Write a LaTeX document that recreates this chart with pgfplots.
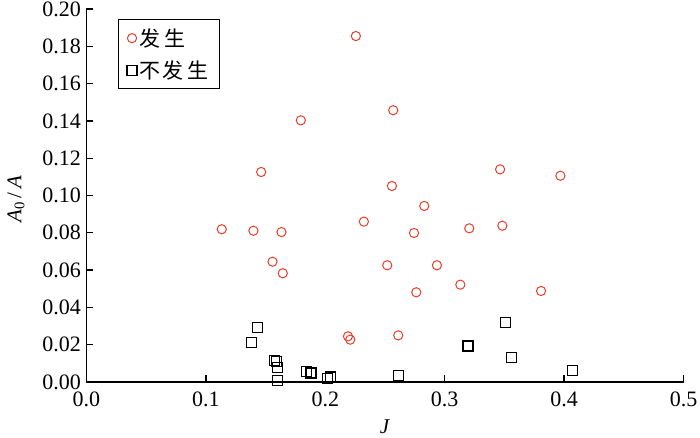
\documentclass[border=0pt]{standalone}
\usepackage{fontspec}
\setmainfont{Liberation Serif}
\newfontfamily\cjk{Noto Sans CJK SC}
\usepackage{pgfplots}
\pgfplotsset{compat=1.18}
\definecolor{myred}{RGB}{232,62,40}
\begin{document}
\begin{tikzpicture}
\path[use as bounding box] (-86.5bp,-56bp) rectangle (613.5bp,382bp);
\begin{axis}[
  at={(0,0)}, anchor=south west,
  scale only axis, width=597bp, height=373bp,
  xmin=0, xmax=0.5, ymin=0, ymax=0.2,
  axis line style={draw=none},
  xtick pos=bottom, ytick pos=left,
  tick style={black, line width=1.3bp},
  major tick length=7bp,
  clip=false,
  xtick={0,0.1,0.2,0.3,0.4,0.5},
  ytick={0,0.02,0.04,0.06,0.08,0.1,0.12,0.14,0.16,0.18,0.2},
  xticklabel style={/pgf/number format/fixed, /pgf/number format/fixed zerofill, /pgf/number format/precision=1, yshift=-6bp},
  yticklabel style={/pgf/number format/fixed, /pgf/number format/fixed zerofill, /pgf/number format/precision=2, xshift=-2bp},
  /pgf/number format/assume math mode=true,
  ticklabel style={font=\fontsize{22bp}{24bp}\selectfont},
  xlabel={\textit{J}},
  xlabel style={at={(axis description cs:0.5,0)}, anchor=center, yshift=-45bp, font=\fontsize{21bp}{24bp}\selectfont},
  ylabel={\textit{A}\textsubscript{0}\,/\,\textit{A}},
  ylabel style={at={(axis description cs:-0.118,0.49)}, anchor=center, font=\fontsize{21bp}{24bp}\selectfont},
  legend style={at={(axis description cs:0.052,0.973)}, anchor=north west,
    draw=black, line width=1bp, font=\cjk\fontsize{21bp}{24bp}\selectfont,
    inner xsep=9bp, inner ysep=7bp, row sep=9bp,
    /tikz/every even column/.append style={column sep=7bp}},
  legend cell align=left,
]
\draw[black, line width=1.3bp, line cap=rect] (rel axis cs:0,1) -- (rel axis cs:0,0) -- (rel axis cs:1,0);
\addplot[only marks, mark=o, mark size=4.6bp, mark options={draw=myred, line width=1bp}] coordinates {
(0.1133,0.0819) (0.1398,0.0811) (0.1633,0.0804) (0.1558,0.0645) (0.1644,0.0583)
(0.1463,0.1126) (0.1795,0.1403) (0.2256,0.1855) (0.2569,0.1457) (0.2558,0.1051)
(0.2323,0.0860) (0.2743,0.0799) (0.2829,0.0944) (0.3464,0.1140) (0.3969,0.1106)
(0.3483,0.0838) (0.3206,0.0824) (0.2519,0.0626) (0.2935,0.0626) (0.3131,0.0522)
(0.2762,0.0481) (0.3807,0.0488) (0.2190,0.0245) (0.2209,0.0227) (0.2611,0.0250)
};
\addlegendentry{发\hspace{4bp}生}
\addplot[only marks, mark=square, mark size=5bp, mark options={draw=black, line width=1.1bp}] coordinates {
(0.1432,0.0290) (0.1379,0.0213) (0.1575,0.0116) (0.1590,0.0111) (0.1602,0.0077)
(0.1602,0.0009) (0.1840,0.0057) (0.1880,0.0048) (0.2041,0.0027) (0.2019,0.0021)
(0.2614,0.0036) (0.3195,0.0193) (0.3508,0.0318) (0.3558,0.0130) (0.4067,0.0063)
};
\addlegendentry{不\hspace{2bp}发\hspace{4bp}生}
\end{axis}
\end{tikzpicture}
\end{document}
